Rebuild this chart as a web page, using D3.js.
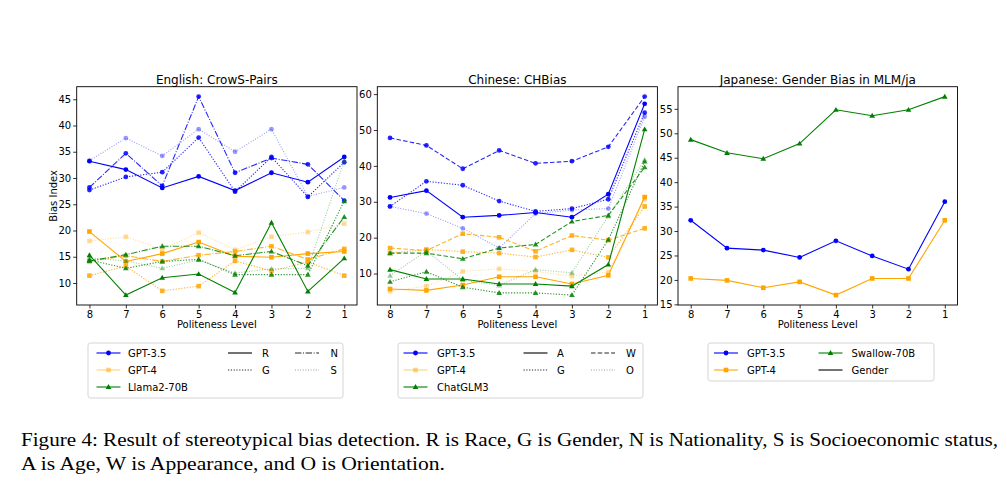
<!DOCTYPE html>
<html><head><meta charset="utf-8">
<script src="https://cdn.jsdelivr.net/npm/d3@7"></script>
<style>body{margin:0;background:#fff} svg{display:block} text{font-family:"DejaVu Sans",sans-serif}</style>
</head><body><svg id="c" width="1007" height="482"></svg>
<script>
// ---------- data ----------
const levels = [8,7,6,5,4,3,2,1];
const enTicks = [10,15,20,25,30,35,40,45];
const zhTicks = [10,20,30,40,50,60];
const jaTicks = [15,20,25,30,35,40,45,50,55];

const enModels = ["GPT-3.5","GPT-4","Llama2-70B"];
const zhModels = ["GPT-3.5","GPT-4","ChatGLM3"];
const jaModels = ["GPT-3.5","GPT-4","Swallow-70B"];
const enDims = ["R","G","N","S"];
const zhDims = ["A","G","W","O"];
const jaDims = ["Gender"];

// English: CrowS-Pairs
const en_gpt35_R = [33.2,31.6,28.1,30.3,27.6,31.0,29.2,34.0];
const en_gpt35_G = [27.7,30.2,31.1,37.7,27.4,34.0,26.4,33.0];
const en_gpt35_N = [28.2,34.7,28.5,45.5,31.0,33.8,32.6,25.7];
const en_gpt35_S = [33.3,37.6,34.2,39.3,35.0,39.3,26.5,28.2];
const en_gpt4_R  = [19.8,14.1,15.6,17.8,15.1,14.9,15.6,16.0];
const en_gpt4_G  = [11.4,13.2,8.5,9.4,14.2,12.3,14.0,11.4];
const en_gpt4_N  = [14.1,15.2,14.1,15.3,16.0,17.0,14.5,16.5];
const en_gpt4_S  = [18.0,18.8,16.4,19.6,16.3,18.8,19.7,21.3];
const en_llama_R = [15.3,7.7,11.0,11.7,8.2,21.5,8.4,14.7];
const en_llama_G = [14.4,12.8,14.1,14.5,11.6,11.6,11.6,25.6];
const en_llama_N = [14.2,15.4,17.0,17.0,15.2,16.0,13.3,22.6];
const en_llama_S = [14.8,14.2,12.8,14.4,11.9,12.7,12.8,33.3];

// Chinese: CHBias
const zh_gpt35_A = [31.2,33.1,25.7,26.2,27.0,25.7,32.1,57.3];
const zh_gpt35_G = [28.7,35.7,34.6,30.2,27.3,28.1,30.7,54.8];
const zh_gpt35_W = [47.8,45.7,39.2,44.3,40.7,41.3,45.3,59.3];
const zh_gpt35_O = [28.7,26.7,22.6,17.1,26.7,27.7,28.1,53.7];
const zh_gpt4_A  = [5.7,5.3,6.8,9.1,9.1,7.1,9.5,31.3];
const zh_gpt4_G  = [15.7,16.7,16.1,15.7,14.6,16.6,14.5,28.7];
const zh_gpt4_W  = [17.1,16.4,21.1,20.1,16.2,20.6,19.3,22.6];
const zh_gpt4_O  = [5.1,6.5,10.6,11.3,10.6,9.3,10.4,30.7];
const zh_glm_A   = [11.1,8.5,8.5,7.1,7.1,6.5,12.5,50.2];
const zh_glm_G   = [7.7,10.5,6.2,4.6,4.6,4.0,19.4,41.2];
const zh_glm_W   = [15.7,15.7,14.1,17.1,18.1,24.5,26.2,39.6];
const zh_glm_O   = [9.4,16.3,8.2,6.7,11.1,10.2,26.0,41.7];

// Japanese: Gender Bias in MLM/ja
const ja_gpt35   = [32.2,26.5,26.1,24.6,28.0,24.9,22.2,36.0];
const ja_gpt4    = [20.3,19.9,18.4,19.6,16.9,20.3,20.3,32.2];
const ja_swallow = [48.7,46.0,44.8,47.9,54.8,53.6,54.8,57.5];

const captionLines = [
  "Figure 4: Result of stereotypical bias detection. R is Race, G is Gender, N is Nationality, S is Socioeconomic status,",
  "A is Age, W is Appearance, and O is Orientation."
];

// ---------- styles ----------
const modelColors = ["#0000ff","#ffa500","#008000"];
const modelMarkers = ["circle","square","triangle"];
const enStyles = [{dash:null,op:1},{dash:"1.2,1.6",op:0.85},{dash:"6.4,1.6,1,1.6",op:0.85},{dash:"1,1.6",op:0.4}];
const zhStyles = [{dash:null,op:1},{dash:"1.2,1.6",op:0.85},{dash:"4.5,2.2",op:0.85},{dash:"1,1.6",op:0.4}];
const jaStyles = [{dash:null,op:1}];

const TOP = 86.7, BOTTOM = 305;
const svg = d3.select("#c");
svg.append("rect").attr("width",1007).attr("height",482).attr("fill","#fff");

function marker(sel, type, cx, cy, color, op) {
  if (type === "circle") {
    sel.append("circle").attr("cx",cx).attr("cy",cy).attr("r",2.4).attr("fill",color).attr("fill-opacity",op);
  } else if (type === "square") {
    sel.append("rect").attr("x",cx-2.3).attr("y",cy-2.3).attr("width",4.6).attr("height",4.6).attr("fill",color).attr("fill-opacity",op);
  } else {
    sel.append("path").attr("d", d3.symbol(d3.symbolTriangle, 14)()).attr("transform",`translate(${cx},${cy+0.4})`).attr("fill",color).attr("fill-opacity",op);
  }
}

function drawPanel(p) {
  const g = svg.append("g");
  const x = d3.scaleLinear().domain([8.35, 0.65]).range([p.left, p.right]);
  const all = p.series.flatMap(s => s.values);
  const [mn, mx] = d3.extent(all);
  const pad = (mx - mn) * 0.05;
  const y = d3.scaleLinear().domain([mn - pad, mx + pad]).range([BOTTOM, TOP]);

  const line = d3.line().x((d,i) => x(levels[i])).y(d => y(d));
  p.series.forEach(s => {
    const st = p.styles[s.dim];
    const col = modelColors[s.model];
    g.append("path").datum(s.values).attr("d", line)
      .attr("fill","none").attr("stroke",col).attr("stroke-width",1.1)
      .attr("stroke-opacity",st.op)
      .attr("stroke-dasharray",st.dash);
    const mg = g.append("g");
    s.values.forEach((v,i) => marker(mg, modelMarkers[s.model], x(levels[i]), y(v), col, st.op));
  });

  g.append("rect").attr("x",p.left).attr("y",TOP).attr("width",p.right-p.left).attr("height",BOTTOM-TOP)
    .attr("fill","none").attr("stroke","#000").attr("stroke-width",0.9);

  const xa = g.append("g").attr("transform",`translate(0,${BOTTOM})`)
    .call(d3.axisBottom(x).tickValues(levels).tickFormat(d3.format("d")).tickSize(3.5).tickPadding(2.5));
  const ya = g.append("g").attr("transform",`translate(${p.left},0)`)
    .call(d3.axisLeft(y).tickValues(p.ticks).tickFormat(d3.format("d")).tickSize(3.5).tickPadding(2));
  [xa, ya].forEach(a => {
    a.select(".domain").remove();
    a.selectAll("line").attr("stroke","#000").attr("stroke-width",0.8);
    a.selectAll("text").attr("font-size",10).attr("font-family","DejaVu Sans").attr("fill","#000");
  });

  g.append("text").attr("x",(p.left+p.right)/2).attr("y",83.5).attr("text-anchor","middle")
    .attr("font-size",12).text(p.title);
  g.append("text").attr("x",(p.left+p.right)/2).attr("y",327.5).attr("text-anchor","middle")
    .attr("font-size",10).text("Politeness Level");
  if (p.ylabel) {
    g.append("text").attr("transform",`translate(56.5,${(TOP+BOTTOM)/2}) rotate(-90)`)
      .attr("text-anchor","middle").attr("font-size",10).text(p.ylabel);
  }
}

function series(models, dims, arrays) {
  const out = [];
  arrays.forEach((row, mi) => row.forEach((vals, di) => out.push({model:mi, dim:di, values:vals})));
  return out;
}

const enSeries = series(enModels, enDims, [
  [en_gpt35_R,en_gpt35_G,en_gpt35_N,en_gpt35_S],
  [en_gpt4_R,en_gpt4_G,en_gpt4_N,en_gpt4_S],
  [en_llama_R,en_llama_G,en_llama_N,en_llama_S]]);
const zhSeries = series(zhModels, zhDims, [
  [zh_gpt35_A,zh_gpt35_G,zh_gpt35_W,zh_gpt35_O],
  [zh_gpt4_A,zh_gpt4_G,zh_gpt4_W,zh_gpt4_O],
  [zh_glm_A,zh_glm_G,zh_glm_W,zh_glm_O]]);
const jaSeries = series(jaModels, jaDims, [[ja_gpt35],[ja_gpt4],[ja_swallow]]);

drawPanel({title:"English: CrowS-Pairs", left:76.7, right:357, ticks:enTicks, series:enSeries, styles:enStyles, ylabel:"Bias Index"});
drawPanel({title:"Chinese: CHBias", left:377.3, right:657.4, ticks:zhTicks, series:zhSeries, styles:zhStyles});
drawPanel({title:"Japanese: Gender Bias in MLM/ja", left:678, right:957.5, ticks:jaTicks, series:jaSeries, styles:jaStyles});

// ---------- legends ----------
function drawLegend(L) {
  const g = svg.append("g");
  g.append("rect").attr("x",L.x0).attr("y",L.y0).attr("width",L.x1-L.x0).attr("height",L.y1-L.y0)
    .attr("rx",2.5).attr("fill","#fff").attr("stroke","#d0d0d0").attr("stroke-width",0.9);
  L.items.forEach(it => {
    const cy = it.y;
    const ln = g.append("line").attr("x1",it.lx).attr("x2",it.lx+24).attr("y1",cy).attr("y2",cy)
      .attr("stroke",it.color).attr("stroke-width",1.1).attr("stroke-opacity",it.op);
    if (it.dash) ln.attr("stroke-dasharray",it.dash);
    if (it.marker) marker(g, it.marker, it.lx+12, cy, it.color, it.op);
    g.append("text").attr("x",it.tx).attr("y",cy).attr("dy","0.36em").attr("font-size",10).text(it.label);
  });
}
const rows = [353, 370, 387];
function modelItems(models, lx, tx, ops) {
  return models.map((m,i) => ({label:m, y:rows[i], lx, tx, color:modelColors[i], marker:modelMarkers[i], op:ops[i]}));
}
function dimItems(dims, styles, cols) {
  return dims.map((d,i) => {
    const c = cols[Math.floor(i/2)];
    return {label:d, y:rows[i%2], lx:c[0], tx:c[1], color:"#000", dash:styles[i].dash, op:styles[i].op};
  });
}
drawLegend({x0:88, x1:343, y0:343, y1:398,
  items: modelItems(enModels, 96.5, 128, [1,0.5,1]).concat(dimItems(enDims, enStyles, [[228,262],[295,330.5]]))});
drawLegend({x0:398, x1:643, y0:343, y1:398,
  items: modelItems(zhModels, 403.5, 437, [1,0.5,1]).concat(dimItems(zhDims, zhStyles, [[523.5,557],[591,626]]))});
drawLegend({x0:708, x1:934, y0:343, y1:381,
  items: [
    {label:jaModels[0], y:rows[0], lx:714, tx:747, color:modelColors[0], marker:"circle", op:1},
    {label:jaModels[1], y:rows[1], lx:714, tx:747, color:modelColors[1], marker:"square", op:1},
    {label:jaModels[2], y:rows[0], lx:818.5, tx:851.5, color:modelColors[2], marker:"triangle", op:1},
    {label:jaDims[0], y:rows[1], lx:818.5, tx:851.5, color:"#000", op:1}
  ]});

// ---------- caption ----------
const capW = [977, 424];
captionLines.forEach((t,i) => {
  svg.append("text").attr("x",21).attr("y",446 + i*23.5)
    .style("font-family","'Liberation Serif', serif")
    .attr("font-size",19.5).attr("textLength",capW[i]).attr("lengthAdjust","spacingAndGlyphs")
    .attr("fill","#000").text(t);
});
</script>
</body></html>
